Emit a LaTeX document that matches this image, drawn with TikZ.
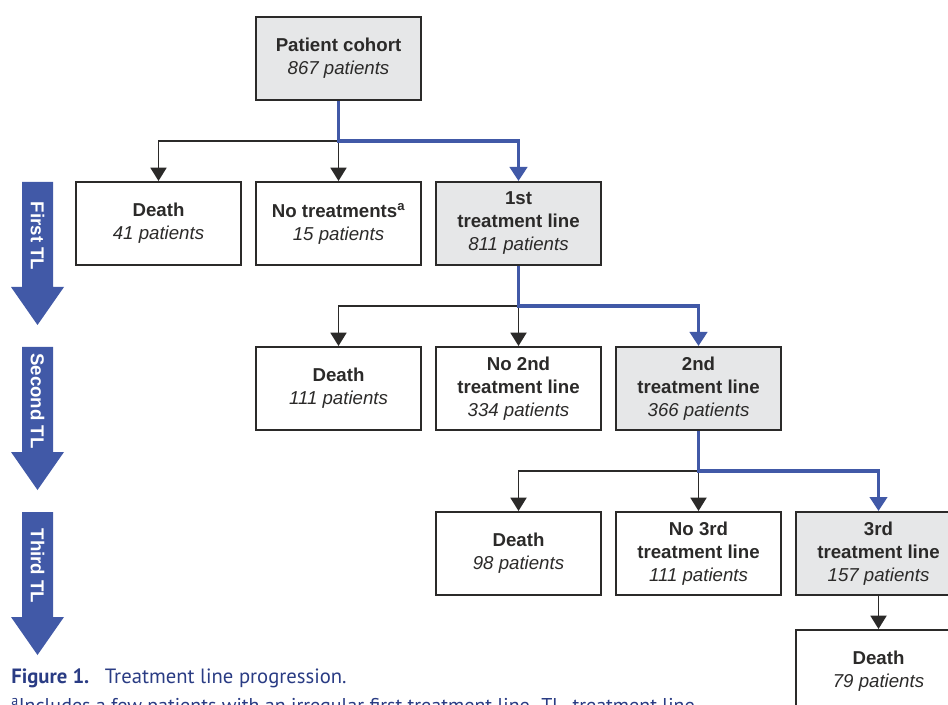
\documentclass[tikz,border=0pt]{standalone}
\usepackage{fontspec}
\setmainfont{Liberation Sans}
\newfontfamily\capfont{PT Sans}
\usetikzlibrary{positioning, arrows.meta, calc}

\definecolor{tlblue}{HTML}{4159A7}
\definecolor{boxgray}{HTML}{E6E7E8}
\definecolor{boxline}{HTML}{2B2A29}
\definecolor{capblue}{HTML}{2A3C84}

\begin{document}
\begin{tikzpicture}[x=0.75pt,y=-0.75pt,on grid,node distance=123.75pt and 135pt,
    box/.style={draw=boxline,line width=1.5pt,minimum width=123.75pt,minimum height=62.25pt,
        align=center,inner sep=2pt,text=boxline,font=\fontsize{14}{17.25}\selectfont},
    active/.style={box,fill=boxgray},
    blk/.style={draw=boxline,line width=1.4pt,-{Triangle[width=12pt,length=10pt]}},
    blu/.style={draw=tlblue,line width=2.4pt,-{Triangle[width=13pt,length=10.5pt]}},
    phase/.style={rotate=-90,text=white,font=\fontsize{14}{17}\selectfont\bfseries}]

\useasboundingbox (0,0) rectangle (948,705);

% treatment line arrows on the left
\foreach \y/\t [count=\i] in {182/First TL,347/Second TL,512/Third TL} {
  \fill[tlblue] (22,\y) -- (53,\y) -- (53,\y+105) -- (64,\y+105) -- (37.5,\y+143)
      -- (11,\y+105) -- (22,\y+105) -- cycle;
  \node[phase] (phase\i) at (37.5,\y+54) {\t};
}

\node[active] (cohort) at (338.5,58.5) {\textbf{Patient cohort}\\\textit{867 patients}};

\node[box]    (none1)  [below=of cohort] {\textbf{No treatments\textsuperscript{a}}\\\textit{15 patients}};
\node[box]    (death1) [left=of none1]   {\textbf{Death}\\\textit{41 patients}};
\node[active] (line1)  [right=of none1]  {\textbf{1st}\\\textbf{treatment line}\\\textit{811 patients}};

\node[box]    (none2)  [below=of line1]  {\textbf{No 2nd}\\\textbf{treatment line}\\\textit{334 patients}};
\node[box]    (death2) [left=of none2]   {\textbf{Death}\\\textit{111 patients}};
\node[active] (line2)  [right=of none2]  {\textbf{2nd}\\\textbf{treatment line}\\\textit{366 patients}};

\node[box]    (none3)  [below=of line2]  {\textbf{No 3rd}\\\textbf{treatment line}\\\textit{111 patients}};
\node[box]    (death3) [left=of none3]   {\textbf{Death}\\\textit{98 patients}};
\node[active] (line3)  [right=of none3]  {\textbf{3rd}\\\textbf{treatment line}\\\textit{157 patients}};

\node[box]    (death4) [below=88.5pt of line3] {\textbf{Death}\\\textit{79 patients}};

% split points
\coordinate (bus1) at ($(cohort.south)!.5!(none1.north)$);
\coordinate (bus2) at ($(line1.south)!.5!(none2.north)$);
\coordinate (bus3) at ($(line2.south)!.5!(none3.north)$);

\draw[blk] (bus1) -| (death1.north);
\draw[blk] (bus1) -- (none1.north);
\draw[blu] (cohort.south) -- (bus1) -| (line1.north);

\draw[blk] (bus2) -| (death2.north);
\draw[blk] (bus2) -- (none2.north);
\draw[blu] (line1.south) -- (bus2) -| (line2.north);

\draw[blk] (bus3) -| (death3.north);
\draw[blk] (bus3) -- (none3.north);
\draw[blu] (line2.south) -- (bus3) -| (line3.north);

\draw[blk] (line3.south) -- (death4.north);

% caption
\node[anchor=base west,inner sep=0pt,text=capblue,font=\capfont\fontsize{15.5}{18}\selectfont] (caption) at (11,683)
  {\textbf{Figure 1.}\hspace{0.4em} Treatment line progression.};
\node[anchor=base west,inner sep=0pt,text=capblue,font=\capfont\fontsize{15}{18}\selectfont] (footnote) at (11,712)
  {\textsuperscript{a}Includes a few patients with an irregular first treatment line. TL, treatment line.};
\end{tikzpicture}
\end{document}
